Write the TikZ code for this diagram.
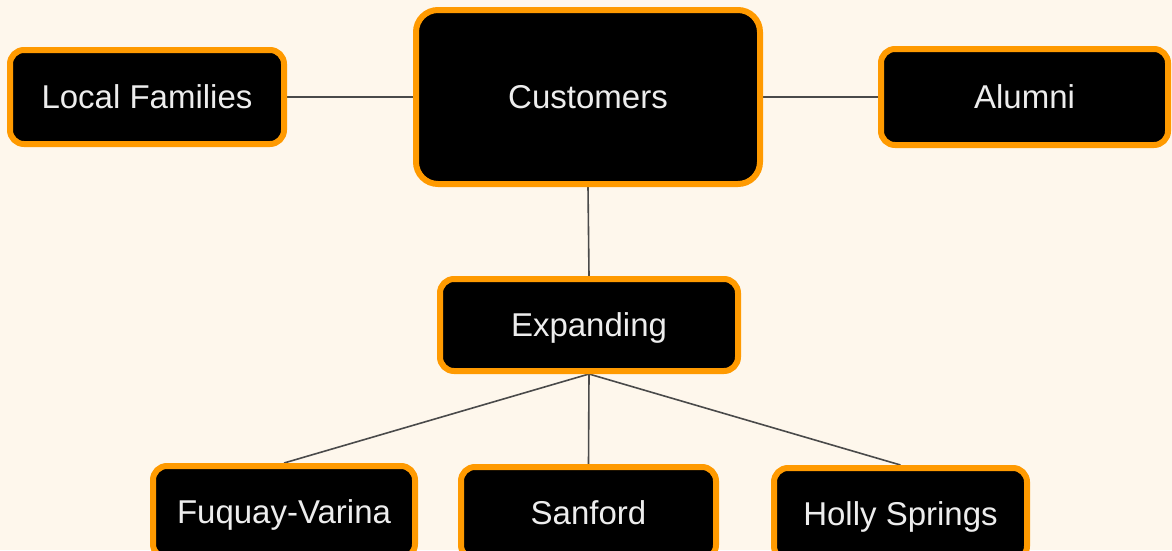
\documentclass[tikz,border=0pt]{standalone}
\usepackage{fontspec}
\setmainfont{Liberation Sans}
\usetikzlibrary{backgrounds}
\definecolor{mapCream}{HTML}{FEF7EC}
\definecolor{mapOrange}{HTML}{FF9A00}
\definecolor{mapText}{HTML}{EDEDED}
\definecolor{mapLine}{HTML}{4A4A4A}
\tikzset{
 mindmap/.style={line cap=round,line join=round},
 topic/.style={rectangle,rounded corners=14pt,draw=mapOrange,fill=black,line width=6pt,
   inner sep=0pt,text=mapText,font=\fontsize{33}{40}\selectfont,
   text height=23.6pt,text depth=0pt},
 hub/.style={topic,rounded corners=22pt},
 link/.style={draw=mapLine,line width=1.6pt}
}

\begin{document}
\begin{tikzpicture}[mindmap,x=1pt,y=-1pt]
 \useasboundingbox (0,0) rectangle (1172,550);
 % top row
 \node[hub,minimum width=344pt,minimum height=174pt] (cust) at (588,97) {Customers};
 \node[topic,minimum width=274pt,minimum height=94pt] (fam) at (147,97) {Local Families};
 \node[topic,minimum width=287pt,minimum height=96pt] (alum) at (1024.5,97) {Alumni};
 % middle
 \node[topic,minimum width=298pt,minimum height=92pt] (exp) at (589,325) {Expanding};
 % towns
 \node[topic,minimum width=262pt,minimum height=92pt] (fuq) at (284,512) {Fuquay-Varina};
 \node[topic,minimum width=255pt,minimum height=92pt] (san) at (588.5,513) {Sanford};
 \node[topic,minimum width=253pt,minimum height=92pt] (hol) at (900.5,514) {Holly Springs};
 \begin{scope}[on background layer]
  \fill[mapCream] (0,0) rectangle (1172,550);
  \draw[link] (fam.east) -- (cust.west);
  \draw[link] (cust.east) -- (alum.west);
  \draw[link] (cust.south) -- (exp.north);
  \draw[link] (exp.south) -- (fuq.north);
  \draw[link] (exp.south) -- (san.north);
  \draw[link] (exp.south) -- (hol.north);
 \end{scope}
\end{tikzpicture}
\end{document}
